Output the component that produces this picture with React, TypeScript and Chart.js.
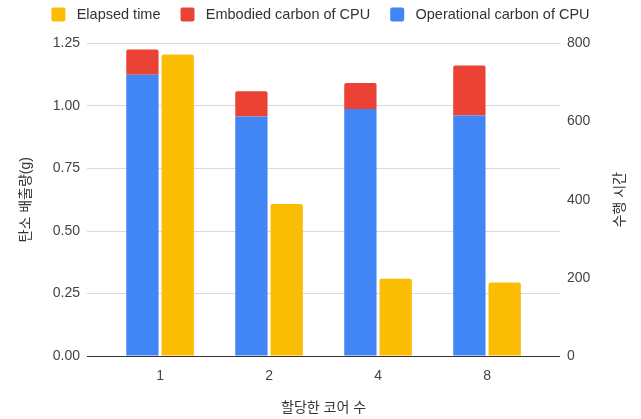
import React, { useEffect, useRef } from 'react';
import { Chart, registerables } from 'chart.js';

Chart.register(...registerables);

// ---- data ----
const categories = ['1', '2', '4', '8'];
const operationalCarbon = [1.125, 0.958, 0.988, 0.962];
const embodiedCarbon = [0.101, 0.101, 0.104, 0.2];
const elapsedTime = [772, 389, 198, 188];
const leftTicks = [0, 0.25, 0.5, 0.75, 1.0, 1.25];
const rightTicks = [0, 200, 400, 600, 800];

const seriesNames = ['Operational carbon of CPU', 'Embodied carbon of CPU', 'Elapsed time'];
const xTitle = '할당한 코어 수';
const yTitle = '탄소 배출량(g)';
const y1Title = '수행 시간';

const FONT = "Arial, 'Liberation Sans', 'Noto Sans CJK KR', sans-serif";
const BLUE = '#4285F4';
const RED = '#EA4335';
const YELLOW = '#FBBC04';
const TICK_COLOR = '#444';
const TITLE_COLOR = '#333';

const LEGEND_HEIGHT = 43.5;
const LEGEND_SHIFT = -12.75;
const Y1_TITLE_PAD_TOP = 12.6;

const legendTweak = {
  id: 'legendTweak',
  beforeLayout(chart: any) {
    const legend = chart.legend;
    if (legend && !legend.__patched) {
      const origFit = legend.fit;
      legend.fit = function () {
        origFit.call(this);
        this.height = LEGEND_HEIGHT;
      };
      const origDraw = legend.draw;
      legend.draw = function () {
        const ctx = this.ctx;
        ctx.save();
        ctx.translate(0, LEGEND_SHIFT);
        origDraw.call(this);
        ctx.restore();
      };
      legend.__patched = true;
    }
  },
};

const rightTitle = {
  id: 'rightTitle',
  afterDraw(chart: any) {
    const s = chart.scales.y1;
    const ctx = chart.ctx;
    ctx.save();
    ctx.font = `14px ${FONT}`;
    ctx.fillStyle = TITLE_COLOR;
    ctx.textAlign = 'center';
    ctx.textBaseline = 'middle';
    ctx.translate(s.right - Y1_TITLE_PAD_TOP - 8.4, (s.top + s.bottom) / 2);
    ctx.rotate(-Math.PI / 2);
    ctx.fillText(y1Title, 0, 0);
    ctx.restore();
  },
};

export default function App() {
  const canvasRef = useRef<HTMLCanvasElement | null>(null);

  useEffect(() => {
    document.body.style.margin = '0';
    const canvas = canvasRef.current;
    if (!canvas) return;
    const font = { family: FONT, size: 14 };
    const toXY = (arr: number[]) => arr.map((v, i) => ({ x: i + 1, y: v }));
    const topRadius = { topLeft: 2, topRight: 2, bottomLeft: 0, bottomRight: 0 };

    const chart = new Chart(canvas, {
      type: 'bar',
      data: {
        datasets: [
          {
            label: seriesNames[0],
            data: toXY(operationalCarbon),
            backgroundColor: BLUE,
            stack: 'carbon',
            yAxisID: 'y',
            borderRadius: 0,
          },
          {
            label: seriesNames[1],
            data: toXY(embodiedCarbon),
            backgroundColor: RED,
            stack: 'carbon',
            yAxisID: 'y',
            borderRadius: topRadius,
            borderSkipped: false,
          },
          {
            label: seriesNames[2],
            data: toXY(elapsedTime),
            backgroundColor: YELLOW,
            stack: 'time',
            yAxisID: 'y1',
            borderRadius: topRadius,
            borderSkipped: false,
          },
        ] as any,
      },
      options: {
        animation: false,
        responsive: true,
        maintainAspectRatio: false,
        devicePixelRatio: 1,
        categoryPercentage: 0.648,
        barPercentage: 0.915,
        layout: { padding: 0 },
        plugins: {
          legend: {
            display: true,
            position: 'top',
            reverse: true,
            labels: {
              boxWidth: 14,
              boxHeight: 14,
              useBorderRadius: true,
              borderRadius: 2,
              padding: 20,
              color: TITLE_COLOR,
              font: { family: FONT, size: 14.5 },
              generateLabels: (c: any) =>
                Chart.defaults.plugins.legend.labels
                  .generateLabels(c)
                  .map((l: any) => ({ ...l, text: ' ' + l.text })),
            },
          },
          tooltip: { enabled: false },
        },
        scales: {
          x: {
            type: 'linear',
            min: 0.33,
            max: 4.67,
            offset: false,
            afterBuildTicks: (axis: any) => {
              axis.ticks = categories.map((_, i) => ({ value: i + 1 }));
            },
            ticks: {
              callback: (v: any) => categories[Math.round(Number(v)) - 1] ?? '',
              padding: 12,
              color: TICK_COLOR,
              font,
              autoSkip: false,
              maxRotation: 0,
            },
            grid: { display: false, drawTicks: false, offset: false },
            border: { display: false },
            title: {
              display: true,
              text: xTitle,
              color: TITLE_COLOR,
              font,
              padding: { top: 2.8, bottom: 2.6 },
            },
          },
          y: {
            type: 'linear',
            position: 'left',
            stacked: true,
            min: 0,
            max: 1.25,
            afterBuildTicks: (axis: any) => {
              axis.ticks = leftTicks.map((v) => ({ value: v }));
            },
            ticks: {
              callback: (v: any) => Number(v).toFixed(2),
              padding: 7,
              color: TICK_COLOR,
              font,
            },
            grid: {
              color: (ctx: any) => (ctx.tick && ctx.tick.value === 0 ? '#333333' : '#d9d9d9'),
              drawTicks: false,
            },
            border: { display: false },
            title: {
              display: true,
              text: yTitle,
              color: TITLE_COLOR,
              font,
              padding: { top: 17.6, bottom: 11.4 },
            },
          },
          y1: {
            type: 'linear',
            position: 'right',
            stacked: true,
            min: 0,
            max: 800,
            afterBuildTicks: (axis: any) => {
              axis.ticks = rightTicks.map((v) => ({ value: v }));
            },
            ticks: {
              padding: 7,
              color: TICK_COLOR,
              font,
            },
            grid: { drawOnChartArea: false, drawTicks: false },
            border: { display: false },
            title: {
              display: true,
              text: y1Title,
              color: 'rgba(0,0,0,0)',
              font,
              padding: { top: Y1_TITLE_PAD_TOP, bottom: 14.2 },
            },
          },
        },
      } as any,
      plugins: [legendTweak, rightTitle],
    });

    return () => chart.destroy();
  }, []);

  return (
    <div style={{ width: 641, height: 419, position: 'relative' }}>
      <canvas ref={canvasRef} />
    </div>
  );
}
